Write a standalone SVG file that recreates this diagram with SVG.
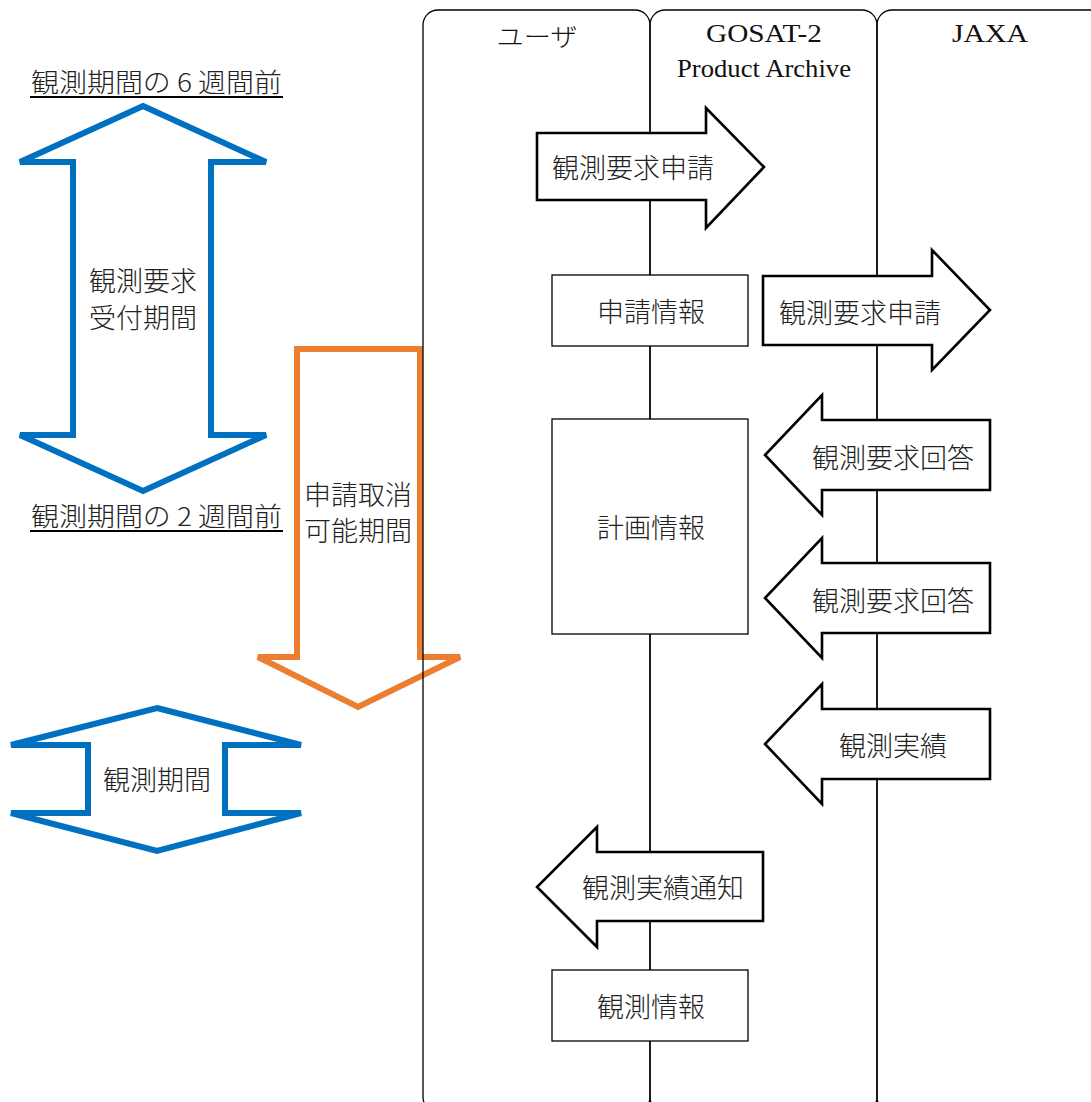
<svg xmlns="http://www.w3.org/2000/svg" width="1091" height="1102" viewBox="0 0 1091 1102">
<style>
.bg{fill:#ffffff}
.lane{fill:none;stroke:#000;stroke-width:1.3}
.hdr{font-family:"Liberation Serif","Noto Sans CJK JP",serif;font-size:26px;fill:#111;text-anchor:middle;dominant-baseline:central}
.hdrj{font-family:"Noto Sans CJK JP",sans-serif;font-weight:300;font-size:25px;fill:#111;text-anchor:middle;dominant-baseline:central}
.t{font-family:"Noto Sans CJK JP","Noto Sans CJK SC",sans-serif;font-weight:300;font-size:27px;fill:#222;text-anchor:middle;dominant-baseline:central}
.lbl{font-family:"Noto Sans CJK JP","Noto Sans CJK SC",sans-serif;font-weight:300;font-size:26px;fill:#222;dominant-baseline:alphabetic}
.box{fill:#fff;stroke:#000;stroke-width:1.3}
.blk{fill:#fff;stroke:#000;stroke-width:2.6;stroke-linejoin:miter}
.blue{fill:#fff;stroke:#0070C0;stroke-width:6}
.orange{fill:none;stroke:#ED7D31;stroke-width:6}
.ul{stroke:#000;stroke-width:2}
</style>
<rect class="bg" x="0" y="0" width="1091" height="1102"/>

<g id="cancel-period">
<polygon class="orange" points="297,349 420,349 420,657 460,657 358,707 258,657 297,657"/>
<text class="t" x="358" y="493">申請取消</text>
<text class="t" x="358" y="529">可能期間</text>
</g>

<g id="lanes">
<g id="lane-user">
<rect class="lane" x="423" y="10" width="227" height="1102" rx="15"/>
<text class="hdrj" x="537" y="35" textLength="81" lengthAdjust="spacingAndGlyphs">ユーザ</text>
</g>
<g id="lane-gosat">
<rect class="lane" x="650" y="10" width="227" height="1102" rx="15"/>
<text class="hdr" x="764" y="33" textLength="116" lengthAdjust="spacingAndGlyphs">GOSAT-2</text>
<text class="hdr" x="764" y="68" textLength="174" lengthAdjust="spacingAndGlyphs">Product Archive</text>
</g>
<g id="lane-jaxa">
<rect class="lane" x="877" y="10" width="240" height="1102" rx="15"/>
<text class="hdr" x="990" y="33" textLength="76" lengthAdjust="spacingAndGlyphs">JAXA</text>
</g>
</g>

<g id="label-6w">
<text class="lbl" x="31" y="92" textLength="251" lengthAdjust="spacingAndGlyphs">観測期間の 6 週間前</text>
<line class="ul" x1="30" y1="97" x2="283" y2="97"/>
</g>
<g id="label-2w">
<text class="lbl" x="31" y="526" textLength="251" lengthAdjust="spacingAndGlyphs">観測期間の 2 週間前</text>
<line class="ul" x1="30" y1="531" x2="283" y2="531"/>
</g>

<g id="accept-period">
<polygon class="blue" points="143,106 266,162 211,162 211,435 266,435 143,491 20,435 73,435 73,162 20,162"/>
<text class="t" x="143" y="279">観測要求</text>
<text class="t" x="143" y="316">受付期間</text>
</g>

<g id="obs-period">
<polygon class="blue" points="157,708 301,745 225,745 225,813 301,813 157,851 11,813 88,813 88,745 11,745"/>
<text class="t" x="157" y="778">観測期間</text>
</g>

<g id="box-apply">
<rect class="box" x="552" y="275" width="196" height="71"/>
<text class="t" x="651" y="310">申請情報</text>
</g>
<g id="box-plan">
<rect class="box" x="552" y="419" width="196" height="215"/>
<text class="t" x="651" y="526">計画情報</text>
</g>
<g id="box-obs">
<rect class="box" x="552" y="970" width="196" height="71"/>
<text class="t" x="651" y="1005">観測情報</text>
</g>

<g id="connectors">
<g id="arrow-req1">
<polygon class="blk" points="537,133 706,133 706,108 764,167 706,228 706,200 537,200"/>
<text class="t" x="633" y="166">観測要求申請</text>
</g>
<g id="arrow-req2">
<polygon class="blk" points="763,276 932,276 932,250 990,310 932,370 932,345 763,345"/>
<text class="t" x="860" y="311">観測要求申請</text>
</g>
<g id="arrow-ans1">
<polygon class="blk" points="990,420 822,420 822,395 765,455 822,515 822,490 990,490"/>
<text class="t" x="893" y="456">観測要求回答</text>
</g>
<g id="arrow-ans2">
<polygon class="blk" points="990,563 822,563 822,538 765,598 822,658 822,633 990,633"/>
<text class="t" x="893" y="599">観測要求回答</text>
</g>
<g id="arrow-result">
<polygon class="blk" points="990,709 822,709 822,684 765,744 822,804 822,779 990,779"/>
<text class="t" x="893" y="744">観測実績</text>
</g>
<g id="arrow-notify">
<polygon class="blk" points="763,852 597,852 597,827 537,887 597,947 597,921 763,921"/>
<text class="t" x="663" y="886">観測実績通知</text>
</g>
</g>
</svg>
